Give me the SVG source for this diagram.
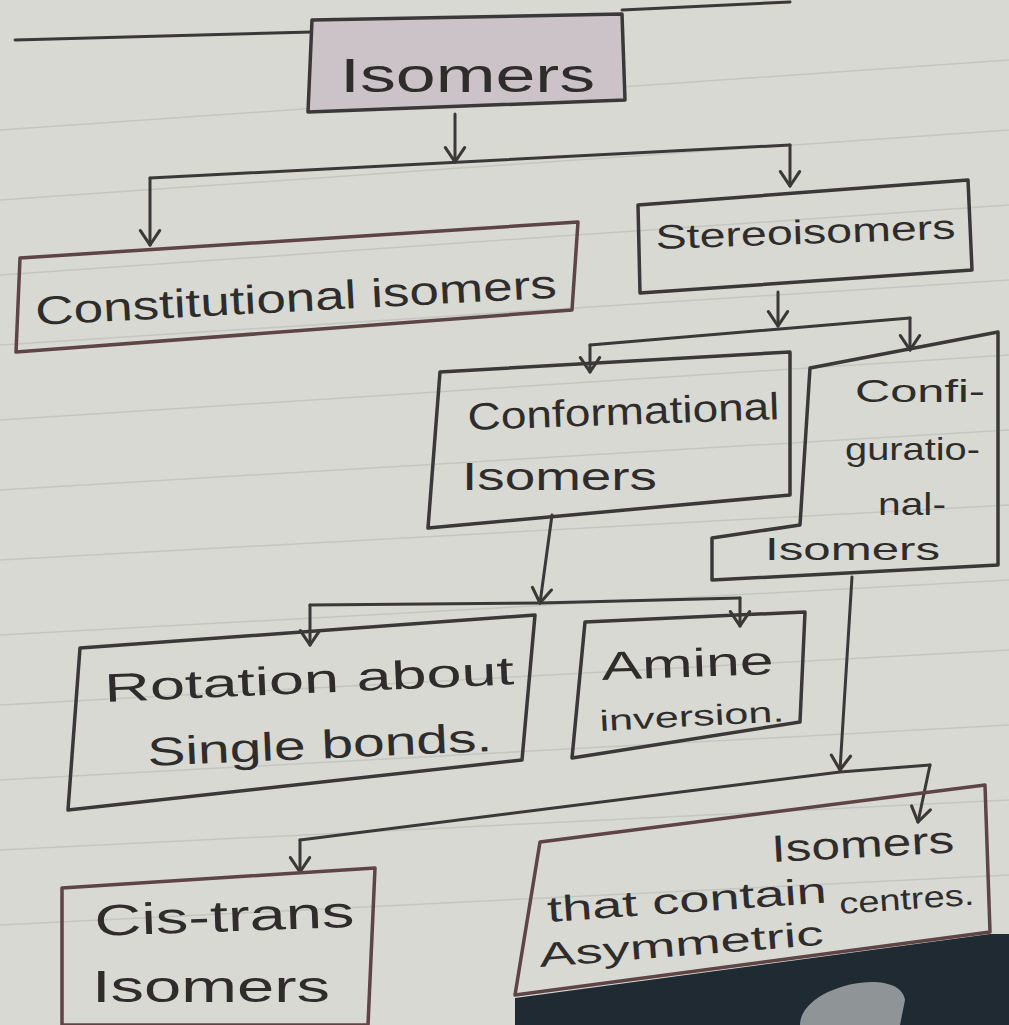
<svg xmlns="http://www.w3.org/2000/svg" width="1009" height="1025" viewBox="0 0 1009 1025">
<defs>
<marker id="arr" viewBox="0 0 20 20" refX="18" refY="10" markerWidth="24" markerHeight="24" markerUnits="userSpaceOnUse" orient="auto">
<path d="M6,2 L18,10 L6,18" fill="none" stroke="#3b3838" stroke-width="2.6" stroke-linecap="round" stroke-linejoin="round"/>
</marker>
<style>
.bg{fill:#d8d9d3}
.rule{stroke:#c4c6c2;stroke-width:1.5}
.box{fill:none;stroke:#3b3838;stroke-width:3.5;stroke-linejoin:round}
.rbox{fill:none;stroke:#5e4444;stroke-width:3.5;stroke-linejoin:round}
.t{font-family:"Liberation Sans",Arial,sans-serif;fill:#2f2c2c}
.c{fill:none;stroke:#3b3838;stroke-width:3;stroke-linecap:round;stroke-linejoin:round}
</style>
</defs>
<rect class="bg" x="0" y="0" width="1009" height="1025"/>
<g id="paper-rules">
<line class="rule" x1="0" y1="130" x2="1009" y2="60"/>
<line class="rule" x1="0" y1="200" x2="1009" y2="130"/>
<line class="rule" x1="0" y1="275" x2="1009" y2="205"/>
<line class="rule" x1="0" y1="345" x2="1009" y2="280"/>
<line class="rule" x1="0" y1="420" x2="1009" y2="355"/>
<line class="rule" x1="0" y1="490" x2="1009" y2="430"/>
<line class="rule" x1="0" y1="560" x2="1009" y2="505"/>
<line class="rule" x1="0" y1="635" x2="1009" y2="580"/>
<line class="rule" x1="0" y1="705" x2="1009" y2="650"/>
<line class="rule" x1="0" y1="780" x2="1009" y2="725"/>
<line class="rule" x1="0" y1="850" x2="1009" y2="800"/>
<line class="rule" x1="0" y1="925" x2="1009" y2="875"/>
</g>
<path d="M515,998 L990,934 L1009,934 L1009,1025 L515,1025 Z" fill="#1f2a33"/>
<path d="M800,1025 C800,985 900,965 905,1000 L900,1025 Z" fill="#8f9597"/>

<g id="connectors">
<path class="c" d="M15,40 L312,32"/>
<path class="c" d="M622,10 L790,2"/>
<path class="c" d="M455,114 L455,162" marker-end="url(#arr)"/>
<path class="c" d="M150,178 L790,145"/>
<path class="c" d="M150,178 L150,245" marker-end="url(#arr)"/>
<path class="c" d="M790,145 L790,186" marker-end="url(#arr)"/>
<path class="c" d="M778,292 L778,326" marker-end="url(#arr)"/>
<path class="c" d="M590,345 L910,318"/>
<path class="c" d="M590,345 L590,372" marker-end="url(#arr)"/>
<path class="c" d="M910,318 L910,350" marker-end="url(#arr)"/>
<path class="c" d="M552,515 L540,603" marker-end="url(#arr)"/>
<path class="c" d="M540,603 L740,598"/>
<path class="c" d="M740,598 L740,626" marker-end="url(#arr)"/>
<path class="c" d="M310,605 L540,603"/>
<path class="c" d="M310,605 L310,645" marker-end="url(#arr)"/>
<path class="c" d="M852,577 L840,770" marker-end="url(#arr)"/>
<path class="c" d="M300,840 L840,772 L930,765"/>
<path class="c" d="M930,765 L918,822" marker-end="url(#arr)"/>
<path class="c" d="M300,840 L300,872" marker-end="url(#arr)"/>
</g>

<g id="node-isomers">
<path class="box" d="M312,20 L622,14 L625,100 L308,112 Z" style="fill:#cbc3c8"/>
<text class="t" x="340" y="92" font-size="48" textLength="255" lengthAdjust="spacingAndGlyphs">Isomers</text>
</g>

<g id="node-constitutional">
<path class="rbox" d="M20,258 L578,222 L572,310 L16,352 Z"/>
<text class="t" x="36" y="325" font-size="40" textLength="522" lengthAdjust="spacingAndGlyphs" transform="rotate(-3 36 325)">Constitutional isomers</text>
</g>

<g id="node-stereoisomers">
<path class="box" d="M638,205 L968,180 L972,270 L640,293 Z"/>
<text class="t" x="656" y="249" font-size="34" textLength="300" lengthAdjust="spacingAndGlyphs" transform="rotate(-2 656 249)">Stereoisomers</text>
</g>

<g id="node-conformational">
<path class="box" d="M440,372 L790,352 L790,495 L428,528 Z"/>
<text class="t" x="468" y="430" font-size="38" textLength="312" lengthAdjust="spacingAndGlyphs" transform="rotate(-2 468 430)">Conformational</text>
<text class="t" x="462" y="490" font-size="38" textLength="195" lengthAdjust="spacingAndGlyphs">Isomers</text>
</g>

<g id="node-configurational">
<path class="box" d="M810,368 L998,332 L998,565 L712,580 L712,538 L800,525 Z"/>
<text class="t" x="855" y="402" font-size="32" textLength="130" lengthAdjust="spacingAndGlyphs">Confi-</text>
<text class="t" x="845" y="460" font-size="32" textLength="135" lengthAdjust="spacingAndGlyphs">guratio-</text>
<text class="t" x="878" y="515" font-size="32" textLength="68" lengthAdjust="spacingAndGlyphs">nal-</text>
<text class="t" x="765" y="560" font-size="32" textLength="175" lengthAdjust="spacingAndGlyphs">Isomers</text>
</g>

<g id="node-rotation">
<path class="box" d="M80,648 L535,615 L522,760 L68,810 Z"/>
<text class="t" x="105" y="702" font-size="40" textLength="410" lengthAdjust="spacingAndGlyphs" transform="rotate(-2.5 105 702)">Rotation about</text>
<text class="t" x="148" y="766" font-size="40" textLength="345" lengthAdjust="spacingAndGlyphs" transform="rotate(-2.5 148 766)">Single bonds.</text>
</g>

<g id="node-amine">
<path class="box" d="M585,622 L805,612 L800,722 L572,758 Z"/>
<text class="t" x="602" y="680" font-size="40" textLength="172" lengthAdjust="spacingAndGlyphs" transform="rotate(-2 602 680)">Amine</text>
<text class="t" x="600" y="731" font-size="29" textLength="185" lengthAdjust="spacingAndGlyphs" transform="rotate(-3 600 731)">inversion.</text>
</g>

<g id="node-cistrans">
<path class="rbox" d="M62,888 L375,868 L368,1025 L62,1025 Z"/>
<text class="t" x="95" y="936" font-size="44" textLength="260" lengthAdjust="spacingAndGlyphs" transform="rotate(-2 95 936)">Cis-trans</text>
<text class="t" x="92" y="1002" font-size="44" textLength="238" lengthAdjust="spacingAndGlyphs">Isomers</text>
</g>

<g id="node-asymmetric">
<path class="rbox" d="M540,842 L985,785 L990,932 L515,995 Z"/>
<text class="t" x="772" y="862" font-size="38" textLength="183" lengthAdjust="spacingAndGlyphs" transform="rotate(-3 772 862)">Isomers</text>
<text class="t" x="548" y="922" font-size="36" textLength="280" lengthAdjust="spacingAndGlyphs" transform="rotate(-4 548 922)">that contain</text>
<text class="t" x="840" y="914" font-size="30" textLength="135" lengthAdjust="spacingAndGlyphs" transform="rotate(-4 840 914)">centres.</text>
<text class="t" x="540" y="967" font-size="34" textLength="285" lengthAdjust="spacingAndGlyphs" transform="rotate(-4.5 540 967)">Asymmetric</text>
</g>
</svg>
